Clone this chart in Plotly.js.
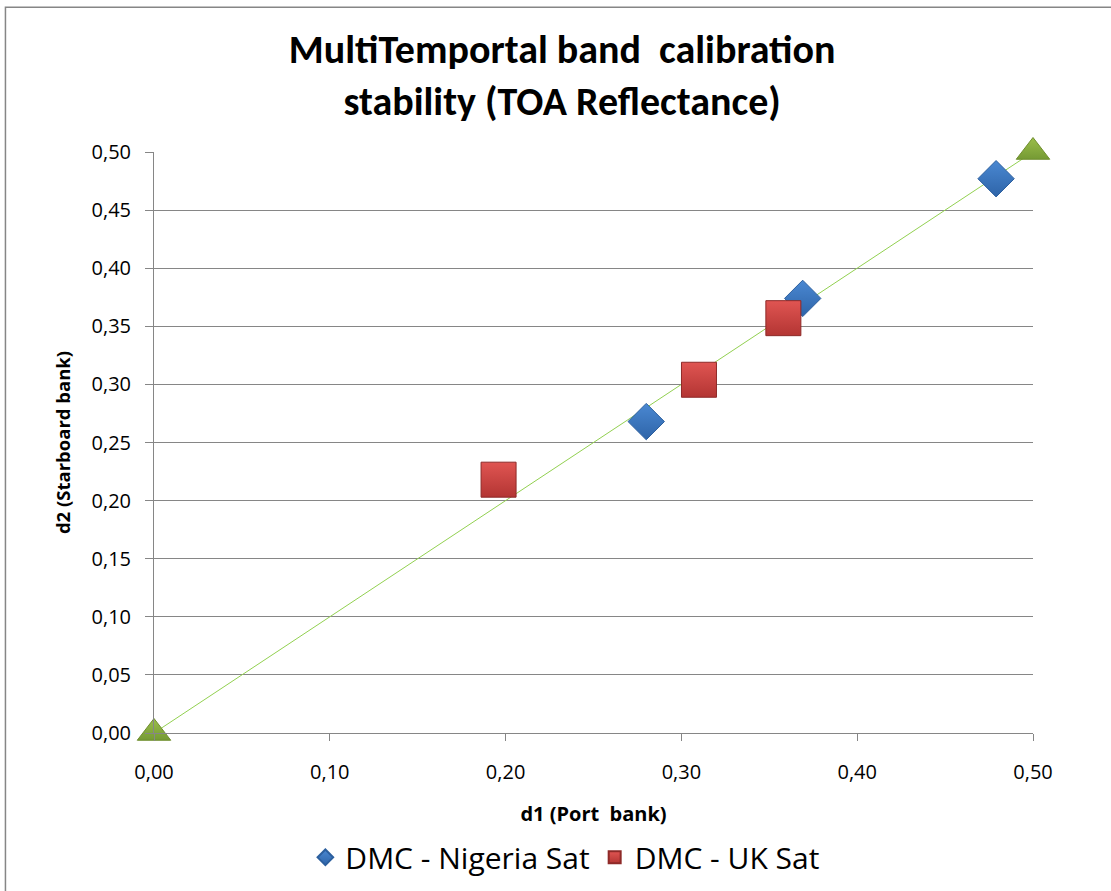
<!DOCTYPE html>
<html>
<head>
<meta charset="utf-8">
<script src="https://cdn.plot.ly/plotly-3.0.1.min.js"></script>
<style>
  html, body { margin: 0; padding: 0; background: #ffffff; }
  #chart { width: 1111px; height: 891px; }
</style>
</head>
<body>
<div id="chart"></div>
<script>
// Data
const nigeriaX = [0.280, 0.369, 0.479];
const nigeriaY = [0.268, 0.374, 0.477];
const ukX = [0.196, 0.310, 0.358];
const ukY = [0.218, 0.304, 0.357];
const refX = [0.00, 0.50];
const refY = [0.00, 0.50];
const seriesNames = ['DMC - Nigeria Sat', 'DMC - UK Sat'];
const tickVals = [0, 0.05, 0.10, 0.15, 0.20, 0.25, 0.30, 0.35, 0.40, 0.45, 0.50];
const xTickVals = [0, 0.10, 0.20, 0.30, 0.40, 0.50];

const TITLEFONT = 'Carlito, Calibri, "Open Sans", sans-serif';
const FONT = '"Open Sans", Carlito, sans-serif';

const traces = [
  {
    x: refX, y: refY, type: 'scatter', mode: 'lines',
    line: { color: '#92D050', width: 1 },
    showlegend: false, hoverinfo: 'skip', cliponaxis: false
  },
  {
    x: nigeriaX, y: nigeriaY, type: 'scatter', mode: 'markers',
    name: seriesNames[0], cliponaxis: false,
    marker: { symbol: 'diamond', size: 28, color: '#4A88D2',
              gradient: { type: 'vertical', color: '#2E64A8' },
              line: { color: '#2C5F9E', width: 1 } }
  },
  {
    x: ukX, y: ukY, type: 'scatter', mode: 'markers',
    name: seriesNames[1], cliponaxis: false,
    marker: { symbol: 'square', size: 35, color: '#E05552',
              gradient: { type: 'vertical', color: '#B33533' },
              line: { color: '#8E2A28', width: 1 } }
  },
  {
    x: refX, y: refY, type: 'scatter', mode: 'markers',
    showlegend: false, cliponaxis: false,
    marker: { symbol: 'triangle-up', size: 29, color: '#9BBE4A',
              gradient: { type: 'vertical', color: '#759A34' },
              line: { color: '#6F8E2E', width: 1 } }
  }
];

const layout = {
  width: 1111, height: 891,
  paper_bgcolor: '#ffffff', plot_bgcolor: '#ffffff',
  margin: { l: 154, r: 78, t: 152, b: 157.5, autoexpand: false },
  separators: ',.',
  font: { family: FONT, color: '#000000' },
  title: {
    text: '<b>MultiTemportal band  calibration<br>stability (TOA Reflectance)</b>',
    font: { family: TITLEFONT, size: 40, color: '#000000' },
    x: 0.506, xanchor: 'center', y: 0.929, yanchor: 'middle'
  },
  xaxis: {
    range: [0, 0.5], tickvals: xTickVals, tickformat: '.2f',
    showgrid: false, zeroline: false, automargin: false,
    showline: true, linecolor: '#868686', linewidth: 1,
    ticks: 'outside', ticklen: 7, tickcolor: '#868686',
    ticklabelstandoff: 14,
    tickfont: { family: FONT, size: 20, color: '#000000' },
    title: { text: '<b>d1 (Port  bank)</b>', font: { family: FONT, size: 20, color: '#000000' }, standoff: 22 },
    fixedrange: true
  },
  yaxis: {
    range: [0, 0.5], tickvals: tickVals, tickformat: '.2f',
    showgrid: true, gridcolor: '#868686', gridwidth: 1,
    zeroline: false, automargin: false,
    showline: true, linecolor: '#868686', linewidth: 1,
    ticks: 'outside', ticklen: 8, tickcolor: '#868686',
    ticklabelstandoff: 10,
    tickfont: { family: FONT, size: 20, color: '#000000' },
    title: { text: '<b>d2 (Starboard bank)</b>', font: { family: FONT, size: 18.5, color: '#000000' }, standoff: 16 },
    fixedrange: true
  },
  legend: {
    orientation: 'h', x: 0.468, xanchor: 'center', y: -0.214, yanchor: 'middle',
    font: { family: FONT, size: 30, color: '#000000' },
    itemsizing: 'constant', itemwidth: 30
  },
  shapes: [
    { type: 'rect', xref: 'paper', yref: 'paper',
      x0: -0.169, x1: 1.2, y0: -0.5, y1: 1.249,
      line: { color: '#868686', width: 1.5 }, fillcolor: 'rgba(0,0,0,0)' }
  ]
};

Plotly.newPlot('chart', traces, layout, { displayModeBar: false, staticPlot: true });
</script>
</body>
</html>
